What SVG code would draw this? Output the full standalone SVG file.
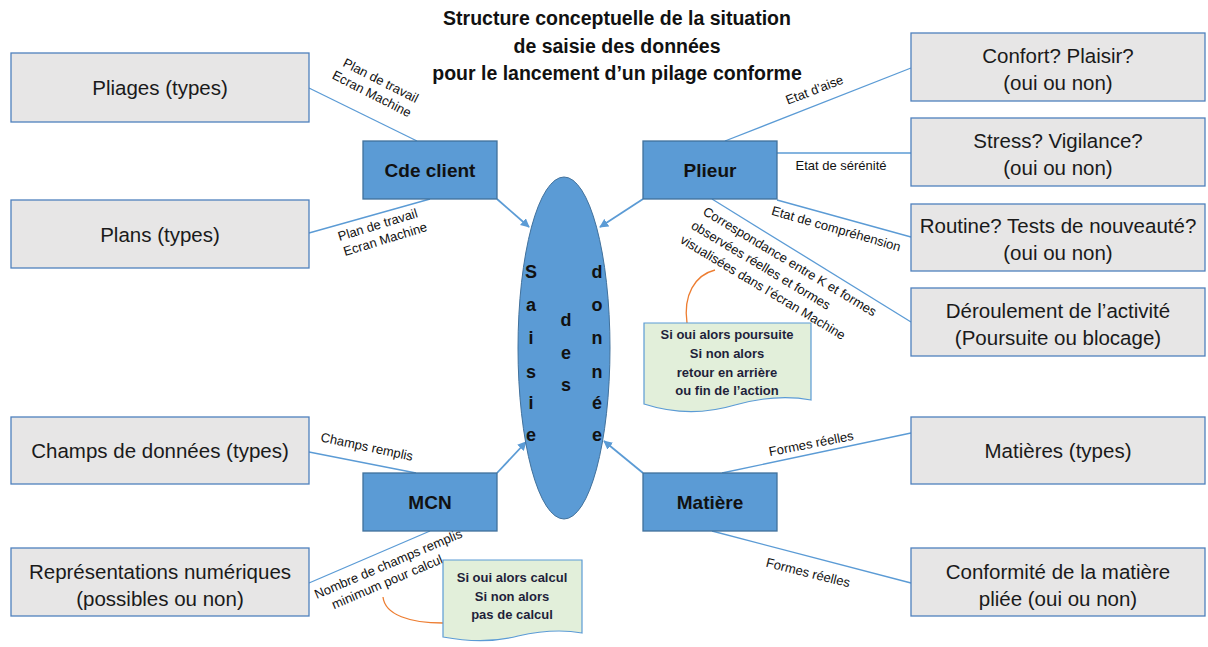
<svg xmlns="http://www.w3.org/2000/svg" width="1208" height="647" viewBox="0 0 1208 647">
<style>
.grey{fill:#E7E6E6;stroke:#4F81BD;stroke-width:1.3}
.blue{fill:#5B9BD5;stroke:#41719C;stroke-width:1.3}
.gt{font-family:"Liberation Sans",Arial,sans-serif;font-size:20.5px;fill:#1a1a1a;text-anchor:middle}
.bt{font-family:"Liberation Sans",Arial,sans-serif;font-size:19px;font-weight:bold;fill:#111;text-anchor:middle}
.lt{font-family:"Liberation Sans",Arial,sans-serif;font-size:13px;fill:#111}
.title{font-family:"Liberation Sans",Arial,sans-serif;font-size:19.5px;font-weight:bold;fill:#111;text-anchor:middle}
.el{font-family:"Liberation Sans",Arial,sans-serif;font-size:18px;font-weight:bold;fill:#111;text-anchor:middle}
.ct{font-family:"Liberation Sans",Arial,sans-serif;font-size:13px;font-weight:bold;fill:#1F1F3A;text-anchor:middle}
.line{stroke:#5B9BD5;stroke-width:1.3;fill:none}
.arr{stroke:#5B9BD5;stroke-width:1.8;fill:none;marker-end:url(#ah)}
.call{fill:#E2EFDA;stroke:#5B9BD5;stroke-width:1.2}
.or{stroke:#ED7D31;stroke-width:1.3;fill:none}
</style>
<defs>
<marker id="ah" viewBox="0 0 10 10" refX="9" refY="5" markerWidth="5" markerHeight="5" orient="auto"><path d="M0,0 L10,5 L0,10 Z" fill="#5B9BD5"/></marker>
</defs>
<rect width="1208" height="647" fill="#fff"/>

<g id="title">
<text class="title" x="617" y="25">Structure conceptuelle de la situation</text>
<text class="title" x="617" y="53">de saisie des données</text>
<text class="title" x="617" y="80">pour le lancement d’un pilage conforme</text>
</g>

<g id="connectors">
<line class="line" x1="309" y1="88" x2="417" y2="141"/>
<line class="line" x1="309" y1="233" x2="430" y2="199"/>
<line class="line" x1="911" y1="68" x2="725" y2="141"/>
<line class="line" x1="777" y1="153" x2="911" y2="153"/>
<line class="line" x1="777" y1="200" x2="911" y2="237"/>
<line class="line" x1="712" y1="199" x2="911" y2="322"/>
<line class="line" x1="309" y1="452" x2="416" y2="473"/>
<line class="line" x1="430" y1="531" x2="309" y2="583"/>
<line class="line" x1="722" y1="473" x2="911" y2="433"/>
<line class="line" x1="712" y1="531" x2="911" y2="583"/>
<line class="arr" x1="497" y1="199" x2="529" y2="227"/>
<line class="arr" x1="643" y1="199" x2="600" y2="227"/>
<line class="arr" x1="497" y1="473" x2="526" y2="442"/>
<line class="arr" x1="643" y1="473" x2="604" y2="441"/>
<path class="or" d="M687,323 C683,295 695,275 715,270"/>
<path class="or" d="M383,597 C385,615 410,623 443,623"/>
</g>

<g id="labels">
<g transform="translate(377,88) rotate(27)"><text class="lt" x="0" y="-4" text-anchor="middle">Plan de travail</text><text class="lt" x="-2" y="12" text-anchor="middle">Ecran Machine</text></g>
<g transform="translate(379,229) rotate(-17)"><text class="lt" x="0" y="0" text-anchor="middle">Plan de travail</text><text class="lt" x="3" y="16" text-anchor="middle">Ecran Machine</text></g>
<text class="lt" transform="translate(816,94) rotate(-21)" text-anchor="middle">Etat d’aise</text>
<text class="lt" x="841" y="170" text-anchor="middle">Etat de sérénité</text>
<text class="lt" transform="translate(835,233) rotate(16)" text-anchor="middle">Etat de compréhension</text>
<g transform="translate(702,214) rotate(31)">
<text class="lt" x="0" y="0">Correspondance entre K et formes</text>
<text class="lt" x="-3" y="18">observées réelles et formes</text>
<text class="lt" x="-5" y="36">visualisées dans l’écran Machine</text>
</g>
<text class="lt" transform="translate(366,451) rotate(12)" text-anchor="middle">Champs remplis</text>
<g transform="translate(390,568) rotate(-23)"><text class="lt" x="0" y="0" text-anchor="middle">Nombre de champs remplis</text><text class="lt" x="-8" y="16" text-anchor="middle">minimum pour calcul</text></g>
<text class="lt" transform="translate(812,448) rotate(-11)" text-anchor="middle">Formes réelles</text>
<text class="lt" transform="translate(807,577) rotate(14)" text-anchor="middle">Formes réelles</text>
</g>

<g id="pliages"><rect class="grey" x="11" y="53" width="298" height="69"/><text class="gt" x="160" y="95">Pliages (types)</text></g>
<g id="plans"><rect class="grey" x="11" y="200" width="298" height="68"/><text class="gt" x="160" y="242">Plans (types)</text></g>
<g id="champs"><rect class="grey" x="11" y="417" width="298" height="67"/><text class="gt" x="160" y="458">Champs de données (types)</text></g>
<g id="representations"><rect class="grey" x="11" y="548" width="298" height="68"/><text class="gt" x="160" y="579">Représentations numériques</text><text class="gt" x="160" y="606">(possibles ou non)</text></g>

<g id="confort"><rect class="grey" x="911" y="33" width="294" height="68"/><text class="gt" x="1058" y="63">Confort? Plaisir?</text><text class="gt" x="1058" y="90">(oui ou non)</text></g>
<g id="stress"><rect class="grey" x="911" y="118" width="294" height="68"/><text class="gt" x="1058" y="148">Stress? Vigilance?</text><text class="gt" x="1058" y="175">(oui ou non)</text></g>
<g id="routine"><rect class="grey" x="911" y="204" width="294" height="67"/><text class="gt" x="1058" y="233">Routine? Tests de nouveauté?</text><text class="gt" x="1058" y="260">(oui ou non)</text></g>
<g id="deroulement"><rect class="grey" x="911" y="288" width="294" height="68"/><text class="gt" x="1058" y="318">Déroulement de l’activité</text><text class="gt" x="1058" y="345">(Poursuite ou blocage)</text></g>
<g id="matieres"><rect class="grey" x="911" y="417" width="294" height="67"/><text class="gt" x="1058" y="458">Matières (types)</text></g>
<g id="conformite"><rect class="grey" x="911" y="548" width="294" height="68"/><text class="gt" x="1058" y="579">Conformité de la matière</text><text class="gt" x="1058" y="606">pliée (oui ou non)</text></g>

<g id="cde-client"><rect class="blue" x="363" y="141" width="134" height="58"/><text class="bt" x="430" y="177">Cde client</text></g>
<g id="plieur"><rect class="blue" x="643" y="141" width="134" height="58"/><text class="bt" x="710" y="177">Plieur</text></g>
<g id="mcn"><rect class="blue" x="363" y="473" width="134" height="58"/><text class="bt" x="430" y="509">MCN</text></g>
<g id="matiere"><rect class="blue" x="643" y="473" width="134" height="58"/><text class="bt" x="710" y="509">Matière</text></g>

<g id="saisie">
<ellipse cx="564" cy="348" rx="46" ry="171" fill="#5B9BD5" stroke="#41719C" stroke-width="1"/>
<text class="el" x="531" y="278">S</text>
<text class="el" x="531" y="311">a</text>
<text class="el" x="531" y="344">i</text>
<text class="el" x="531" y="378">s</text>
<text class="el" x="531" y="409">i</text>
<text class="el" x="531" y="441">e</text>
<text class="el" x="566" y="326">d</text>
<text class="el" x="566" y="359">e</text>
<text class="el" x="566" y="391">s</text>
<text class="el" x="597" y="278">d</text>
<text class="el" x="597" y="311">o</text>
<text class="el" x="597" y="344">n</text>
<text class="el" x="597" y="378">n</text>
<text class="el" x="597" y="409">é</text>
<text class="el" x="597" y="441">e</text>
</g>

<g id="callout-poursuite">
<path class="call" d="M644,323 H811 V400 C785,395 760,398 735,405 C705,414 675,414 644,404 Z"/>
<text class="ct" x="727" y="339">Si oui alors poursuite</text>
<text class="ct" x="727" y="358">Si non alors</text>
<text class="ct" x="727" y="377">retour en arrière</text>
<text class="ct" x="727" y="395">ou fin de l’action</text>
</g>
<g id="callout-calcul">
<path class="call" d="M443,560 H582 V633 C560,629 540,631 518,636 C495,642 470,642 443,637 Z"/>
<text class="ct" x="512" y="582">Si oui alors calcul</text>
<text class="ct" x="512" y="601">Si non alors</text>
<text class="ct" x="512" y="619">pas de calcul</text>
</g>
</svg>
